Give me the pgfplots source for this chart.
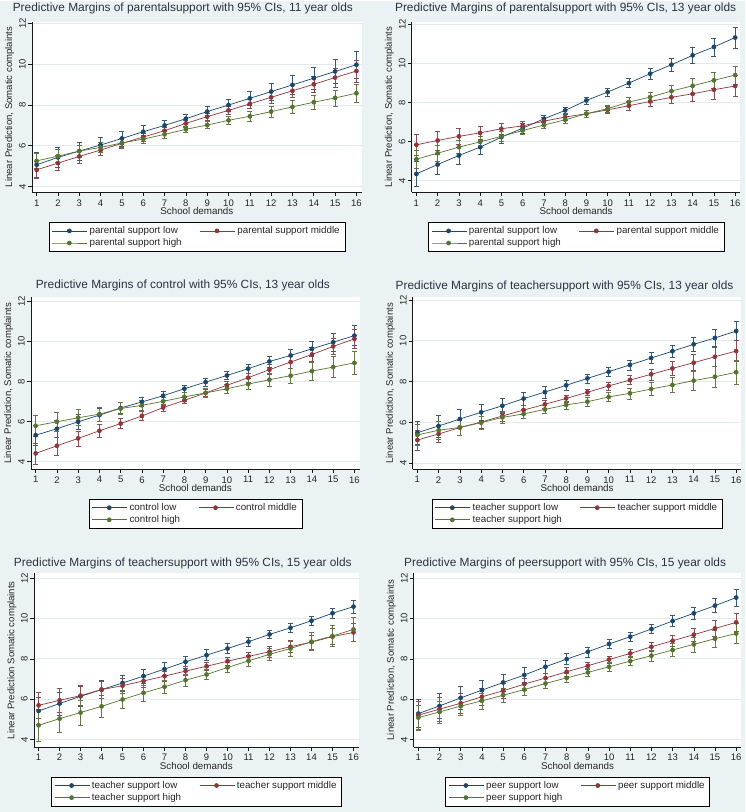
\documentclass[border=0pt]{standalone}
\usepackage{fontspec}
\setmainfont{Liberation Sans}
\usepackage{pgfplots}
\pgfplotsset{compat=1.18}
\usepackage{pgfplotstable}

\definecolor{bgc}{HTML}{EAF2F3}
\definecolor{gridc}{HTML}{E2EAEC}
\definecolor{snavy}{HTML}{1A476F}
\definecolor{smaroon}{HTML}{90353B}
\definecolor{sgreen}{HTML}{55752F}
\definecolor{titc}{HTML}{2B3440}

% Panel 1: parental support, 11 year olds
\pgfplotstableread{
x lo elo mi emi hi ehi
1 5.07 0.60 4.82 0.42 5.26 0.35
2 5.43 0.50 5.15 0.37 5.49 0.32
3 5.74 0.43 5.48 0.32 5.74 0.28
4 6.04 0.38 5.79 0.27 5.92 0.24
5 6.36 0.36 6.12 0.23 6.14 0.21
6 6.69 0.30 6.43 0.20 6.33 0.19
7 7.00 0.24 6.74 0.18 6.56 0.17
8 7.33 0.23 7.10 0.17 6.81 0.17
9 7.68 0.24 7.43 0.17 7.02 0.18
10 8.00 0.30 7.74 0.19 7.25 0.20
11 8.33 0.35 8.06 0.23 7.45 0.23
12 8.66 0.42 8.38 0.28 7.68 0.27
13 8.99 0.46 8.70 0.34 7.91 0.31
14 9.32 0.54 9.02 0.40 8.14 0.36
15 9.65 0.59 9.35 0.47 8.35 0.40
16 9.98 0.67 9.67 0.55 8.58 0.45
}\tabA
% Panel 2: parental support, 13 year olds
\pgfplotstableread{
x lo elo mi emi hi ehi
1 4.34 0.62 5.83 0.56 5.09 0.45
2 4.82 0.52 6.05 0.48 5.40 0.39
3 5.28 0.44 6.26 0.40 5.71 0.33
4 5.71 0.36 6.44 0.34 5.98 0.28
5 6.22 0.30 6.65 0.28 6.26 0.24
6 6.68 0.24 6.80 0.23 6.56 0.20
7 7.16 0.20 7.04 0.20 6.84 0.18
8 7.59 0.18 7.25 0.18 7.11 0.17
9 8.10 0.18 7.42 0.18 7.42 0.17
10 8.53 0.20 7.62 0.19 7.68 0.19
11 8.99 0.24 7.83 0.22 8.02 0.22
12 9.47 0.28 8.05 0.27 8.27 0.26
13 9.93 0.34 8.26 0.33 8.58 0.31
14 10.41 0.40 8.44 0.40 8.85 0.36
15 10.84 0.46 8.65 0.47 9.13 0.41
16 11.32 0.54 8.84 0.55 9.40 0.47
}\tabB
% Panel 3: control, 13 year olds
\pgfplotstableread{
x lo elo mi emi hi ehi
1 5.32 0.50 4.41 0.52 5.79 0.53
2 5.64 0.44 4.79 0.45 5.99 0.46
3 5.99 0.38 5.16 0.38 6.19 0.40
4 6.32 0.33 5.54 0.32 6.37 0.34
5 6.68 0.28 5.90 0.26 6.65 0.29
6 6.98 0.24 6.28 0.21 6.81 0.25
7 7.29 0.21 6.70 0.18 7.01 0.22
8 7.64 0.19 7.06 0.16 7.23 0.21
9 7.97 0.19 7.43 0.16 7.43 0.21
10 8.30 0.20 7.81 0.18 7.64 0.23
11 8.64 0.23 8.19 0.21 7.87 0.27
12 9.00 0.27 8.59 0.25 8.09 0.32
13 9.30 0.32 8.97 0.30 8.29 0.38
14 9.63 0.38 9.35 0.35 8.52 0.45
15 9.96 0.44 9.75 0.40 8.72 0.52
16 10.29 0.50 10.13 0.46 8.93 0.59
}\tabC
% Panel 4: teacher support, 13 year olds
\pgfplotstableread{
x lo elo mi emi hi ehi
1 5.50 0.57 5.14 0.49 5.39 0.50
2 5.83 0.54 5.44 0.42 5.62 0.44
3 6.17 0.47 5.75 0.36 5.76 0.38
4 6.50 0.39 6.02 0.30 5.99 0.32
5 6.82 0.36 6.32 0.25 6.25 0.27
6 7.17 0.31 6.61 0.21 6.42 0.23
7 7.49 0.30 6.89 0.18 6.64 0.21
8 7.82 0.26 7.18 0.17 6.86 0.20
9 8.16 0.22 7.48 0.17 7.02 0.21
10 8.49 0.21 7.79 0.19 7.25 0.23
11 8.82 0.24 8.08 0.22 7.43 0.27
12 9.16 0.26 8.36 0.27 7.64 0.32
13 9.49 0.31 8.65 0.33 7.84 0.38
14 9.83 0.34 8.93 0.39 8.05 0.45
15 10.14 0.42 9.22 0.45 8.24 0.52
16 10.48 0.46 9.50 0.51 8.46 0.60
}\tabD
% Panel 5: teacher support, 15 year olds
\pgfplotstableread{
x lo elo mi emi hi ehi
1 5.41 0.66 5.69 0.66 4.70 0.80
2 5.78 0.58 5.94 0.58 5.03 0.70
3 6.14 0.50 6.17 0.50 5.33 0.62
4 6.47 0.45 6.47 0.42 5.64 0.54
5 6.80 0.40 6.67 0.36 5.98 0.46
6 7.14 0.36 6.90 0.30 6.31 0.40
7 7.49 0.33 7.14 0.25 6.61 0.34
8 7.85 0.30 7.39 0.22 6.94 0.29
9 8.18 0.27 7.63 0.20 7.22 0.26
10 8.51 0.24 7.88 0.20 7.57 0.25
11 8.85 0.22 8.12 0.22 7.90 0.27
12 9.21 0.21 8.35 0.25 8.22 0.31
13 9.54 0.21 8.60 0.30 8.51 0.38
14 9.89 0.22 8.83 0.35 8.85 0.45
15 10.26 0.26 9.10 0.40 9.13 0.52
16 10.59 0.32 9.31 0.46 9.46 0.60
}\tabE
% Panel 6: peer support, 15 year olds
\pgfplotstableread{
x lo elo mi emi hi ehi
1 5.29 0.70 5.21 0.68 5.09 0.62
2 5.67 0.62 5.51 0.58 5.37 0.54
3 6.07 0.55 5.80 0.50 5.66 0.46
4 6.45 0.48 6.12 0.42 5.92 0.40
5 6.83 0.42 6.42 0.35 6.20 0.34
6 7.20 0.37 6.75 0.29 6.48 0.29
7 7.61 0.32 7.05 0.24 6.78 0.25
8 7.99 0.28 7.36 0.20 7.06 0.22
9 8.35 0.25 7.66 0.18 7.33 0.21
10 8.74 0.23 7.97 0.18 7.61 0.21
11 9.10 0.22 8.27 0.20 7.89 0.23
12 9.48 0.23 8.60 0.23 8.16 0.27
13 9.88 0.26 8.90 0.28 8.44 0.32
14 10.26 0.30 9.20 0.34 8.72 0.37
15 10.64 0.35 9.51 0.40 9.00 0.43
16 11.04 0.41 9.81 0.46 9.26 0.50
}\tabF

\pgfplotsset{
 panel/.style={
  scale only axis, anchor=south west,
  xmin=0.78, xmax=16.25,
  xtick={1,...,16}, ytick={4,6,8,10,12},
  axis x line*=bottom, axis y line*=left,
  axis line style={-, black!90, line width=0.6pt},
  axis background/.style={fill=white},
  ymajorgrids, grid style={gridc, line width=0.8pt},
  tick align=outside, major tick length=3.5pt,
  tick style={black!90, line width=0.6pt},
  /pgf/number format/assume math mode=true,
  ticklabel style={font=\fontsize{9.5}{9.5}\selectfont, text=black!85},
  yticklabel style={rotate=90, anchor=south, inner sep=2.5pt},
  xticklabel style={inner sep=3.5pt},
  xlabel={School demands},
  xlabel style={at={(axis description cs:0.5,0)}, anchor=center, yshift=-19pt, font=\fontsize{9.8}{9.8}\selectfont, text=black!85},
  ylabel style={at={(axis description cs:-0.068,0.5)}, anchor=center, font=\fontsize{9.6}{9.6}\selectfont, text=black!85},
  legend columns=2,
  legend cell align=left,
  legend style={at={(axis description cs:0.5,0)}, anchor=north, yshift=-30pt, draw=black, fill=white, font=\fontsize{9.8}{11}\selectfont, text=black!85, inner xsep=3pt, inner ysep=2pt, row sep=-0.5pt, /tikz/every even column/.append style={column sep=16pt}},
  legend image code/.code={\draw[mark repeat=2,mark phase=2] plot coordinates {(0pt,0pt) (17pt,0pt) (35pt,0pt)};},
 },
 ser/.style={color=#1, line width=0.7pt, mark=*, mark size=2pt, mark options={solid, fill=#1},
   error bars/.cd, y dir=both, y explicit,
   error bar style={line width=0.55pt, color=#1!70!gray},
   error mark options={rotate=90, mark size=2.5pt, line width=0.55pt, color=#1!70!gray}},
}

\begin{document}
\begin{tikzpicture}[x=1pt,y=1pt]
\fill[bgc] (0pt,0pt) rectangle (746pt,812pt);

% titles
\begin{scope}[every node/.style={font=\fontsize{11.9}{12}\selectfont, text=titc}]
\node at (183pt,803.7pt) {Predictive Margins of parentalsupport with 95\% CIs, 11 year olds};
\node at (566pt,803.7pt) {Predictive Margins of parentalsupport with 95\% CIs, 13 year olds};
\node at (183pt,527pt) {Predictive Margins of control with 95\% CIs, 13 year olds};
\node at (565pt,526pt) {Predictive Margins of teachersupport with 95\% CIs, 13 year olds};
\node at (183pt,248.7pt) {Predictive Margins of teachersupport with 95\% CIs, 15 year olds};
\node at (565.5pt,248.7pt) {Predictive Margins of peersupport with 95\% CIs, 15 year olds};
\end{scope}

% Panel 1
\begin{axis}[panel, at={(32pt,620pt)}, width=330pt, height=171pt, ymin=3.71, ymax=12.1,
  ylabel={Linear Prediction, Somatic complaints}]
\addplot[ser=snavy] table[x=x, y=lo, y error=elo] {\tabA};
\addplot[ser=smaroon] table[x=x, y=mi, y error=emi] {\tabA};
\addplot[ser=sgreen] table[x=x, y=hi, y error=ehi] {\tabA};
\legend{parental support low, parental support middle, parental support high}
\end{axis}

% Panel 2
\begin{axis}[panel, at={(412pt,620pt)}, width=329pt, height=171pt, ymin=3.39, ymax=12.14,
  ylabel={Linear Prediction, Somatic complaints}]
\addplot[ser=snavy] table[x=x, y=lo, y error=elo] {\tabB};
\addplot[ser=smaroon] table[x=x, y=mi, y error=emi] {\tabB};
\addplot[ser=sgreen] table[x=x, y=hi, y error=ehi] {\tabB};
\legend{parental support low, parental support middle, parental support high}
\end{axis}

% Panel 3
\begin{axis}[panel, at={(31pt,343pt)}, width=329pt, height=172pt, ymin=3.62, ymax=12.2,
  ylabel={Linear Prediction, Somatic complaints}]
\addplot[ser=snavy] table[x=x, y=lo, y error=elo] {\tabC};
\addplot[ser=smaroon] table[x=x, y=mi, y error=emi] {\tabC};
\addplot[ser=sgreen] table[x=x, y=hi, y error=ehi] {\tabC};
\legend{control low, control middle, control high}
\end{axis}

% Panel 4
\begin{axis}[panel, at={(413pt,343pt)}, width=329pt, height=172pt, ymin=3.71, ymax=12.13,
  ylabel={Linear Prediction, Somatic complaints}]
\addplot[ser=snavy] table[x=x, y=lo, y error=elo] {\tabD};
\addplot[ser=smaroon] table[x=x, y=mi, y error=emi] {\tabD};
\addplot[ser=sgreen] table[x=x, y=hi, y error=ehi] {\tabD};
\legend{teacher support low, teacher support middle, teacher support high}
\end{axis}

% Panel 5
\begin{axis}[panel, at={(34pt,65pt)}, width=325pt, height=174pt, ymin=3.62, ymax=12.25,
  ylabel={Linear Prediction Somatic complaints}]
\addplot[ser=snavy] table[x=x, y=lo, y error=elo] {\tabE};
\addplot[ser=smaroon] table[x=x, y=mi, y error=emi] {\tabE};
\addplot[ser=sgreen] table[x=x, y=hi, y error=ehi] {\tabE};
\legend{teacher support low, teacher support middle, teacher support high}
\end{axis}

% Panel 6
\begin{axis}[panel, at={(414pt,65pt)}, width=328pt, height=174pt, ymin=3.63, ymax=12.25,
  ylabel={Linear Prediction, Somatic complaints}]
\addplot[ser=snavy] table[x=x, y=lo, y error=elo] {\tabF};
\addplot[ser=smaroon] table[x=x, y=mi, y error=emi] {\tabF};
\addplot[ser=sgreen] table[x=x, y=hi, y error=ehi] {\tabF};
\legend{peer support low, peer support middle, peer support high}
\end{axis}
\end{tikzpicture}
\end{document}
